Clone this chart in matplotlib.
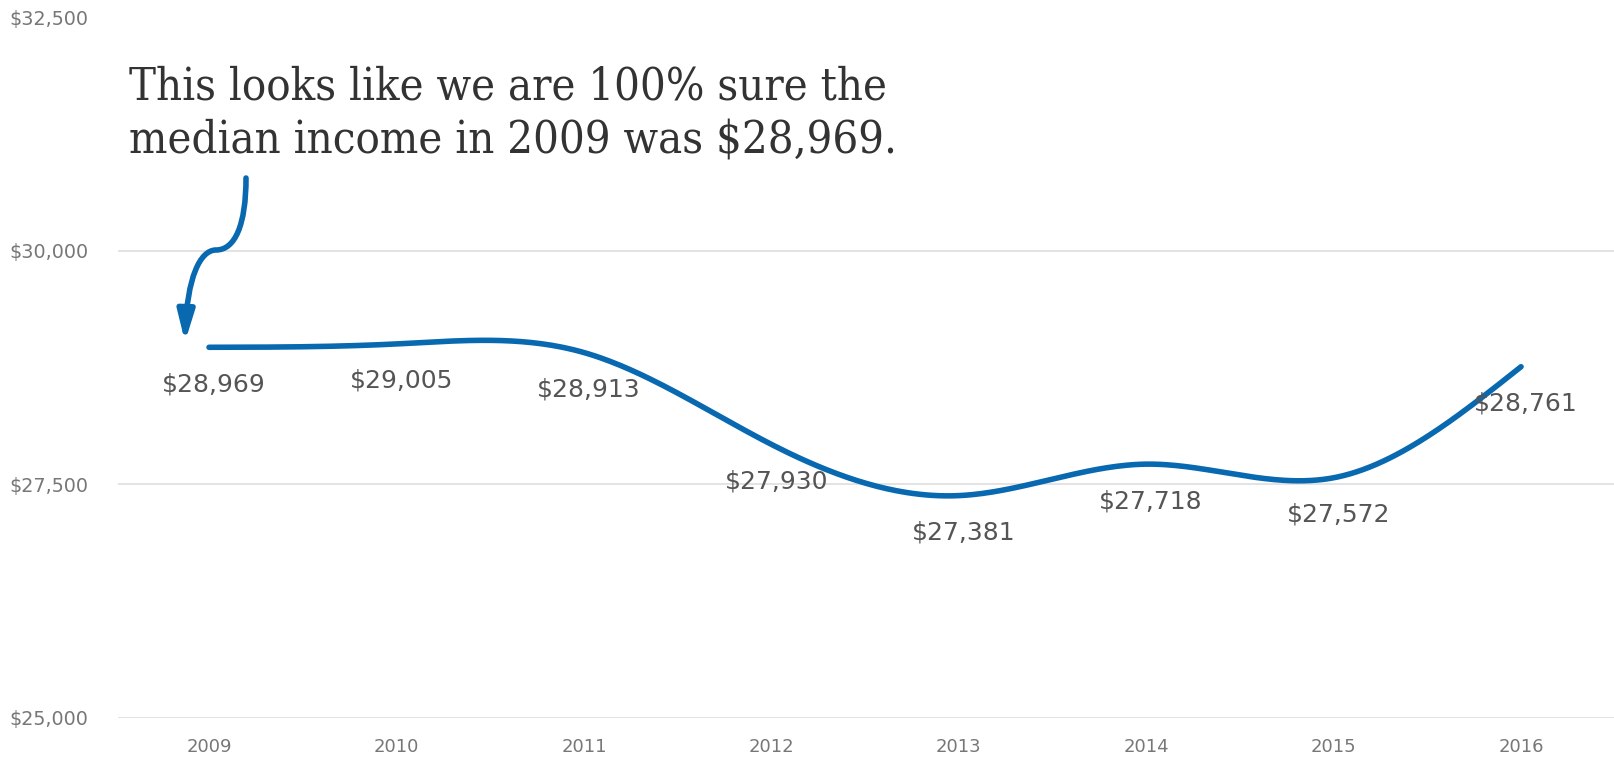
import numpy as np
import matplotlib
matplotlib.use("Agg")
import matplotlib.pyplot as plt
from matplotlib.path import Path
from matplotlib.patches import FancyArrowPatch
from matplotlib.transforms import Affine2D

years = ["2009", "2010", "2011", "2012", "2013", "2014", "2015", "2016"]
income = [28969, 29005, 28913, 27930, 27381, 27718, 27572, 28761]
y_ticks = [25000, 27500, 30000, 32500]
note_lines = ["This looks like we are 100% sure the",
              "median income in 2009 was $28,969."]

BLUE = "#0868b0"
W, H = 1614, 757


def natural_spline(x, y, n=400):
    # natural cubic spline, second derivative zero at both ends
    x = np.asarray(x, float)
    y = np.asarray(y, float)
    k = len(x)
    h = np.diff(x)
    A = np.zeros((k, k))
    b = np.zeros(k)
    A[0, 0] = A[-1, -1] = 1
    for i in range(1, k - 1):
        A[i, i - 1] = h[i - 1]
        A[i, i] = 2 * (h[i - 1] + h[i])
        A[i, i + 1] = h[i]
        b[i] = 6 * ((y[i + 1] - y[i]) / h[i] - (y[i] - y[i - 1]) / h[i - 1])
    m = np.linalg.solve(A, b)
    xs = np.linspace(x[0], x[-1], n)
    idx = np.clip(np.searchsorted(x, xs) - 1, 0, k - 2)
    t = xs - x[idx]
    hi = h[idx]
    a0 = y[idx]
    a1 = (y[idx + 1] - y[idx]) / hi - hi * (2 * m[idx] + m[idx + 1]) / 6
    a2 = m[idx] / 2
    a3 = (m[idx + 1] - m[idx]) / (6 * hi)
    return xs, a0 + a1 * t + a2 * t ** 2 + a3 * t ** 3


fig = plt.figure(figsize=(W / 100, H / 100), dpi=100)
ax = fig.add_axes([118.4 / W, 39 / H, 1 - 118.4 / W, 700.5 / H])

x = np.arange(len(years))
xs, ys = natural_spline(x, income)
ax.plot(xs, ys, color=BLUE, lw=4, solid_capstyle="round", zorder=3)

for xi, v in zip(x, income):
    ax.annotate("${:,}".format(v), (xi, v), xytext=(3.5, -26.6),
                textcoords="offset points", ha="center", va="center",
                fontsize=18, color="#555555", zorder=4)

ax.set_xlim(-0.4835, 7.496)
ax.set_ylim(y_ticks[0], y_ticks[-1])
ax.set_xticks(x)
ax.set_xticklabels(years)
ax.set_yticks(y_ticks)
ax.set_yticklabels(["${:,}".format(v) for v in y_ticks])
ax.tick_params(axis="x", length=0, pad=14.5, labelsize=13, labelcolor="#777777")
ax.tick_params(axis="y", length=0, pad=21.5, labelsize=13.8, labelcolor="#777777")
ax.grid(axis="y", color="#e3e3e3", lw=1.4)
ax.set_axisbelow(True)
for s in ax.spines.values():
    s.set_visible(False)

# callout text, pixel positions measured from the top edge
for line, base in zip(note_lines, [99, 154]):
    fig.text(128.7 / W, 1 - base / H, line, ha="left", va="baseline",
             fontsize=32.5, color="#333333", family="DejaVu Serif",
             fontstretch="condensed")

# curved pointer down to the first point
verts = [(246, 178), (246, 225), (235, 250), (216, 250),
         (200, 250), (187, 278), (185, 342)]
codes = [Path.MOVETO, Path.CURVE4, Path.CURVE4, Path.CURVE4,
         Path.CURVE4, Path.CURVE4, Path.CURVE4]
flip = Affine2D().scale(1, -1).translate(0, H)
arrow = FancyArrowPatch(path=Path(verts, codes),
                        arrowstyle="-|>,head_length=1.8,head_width=0.5",
                        mutation_scale=10, color=BLUE, lw=4,
                        shrinkA=0, shrinkB=0,
                        transform=flip, zorder=5)
fig.add_artist(arrow)

fig.savefig("out.png", dpi=100)
